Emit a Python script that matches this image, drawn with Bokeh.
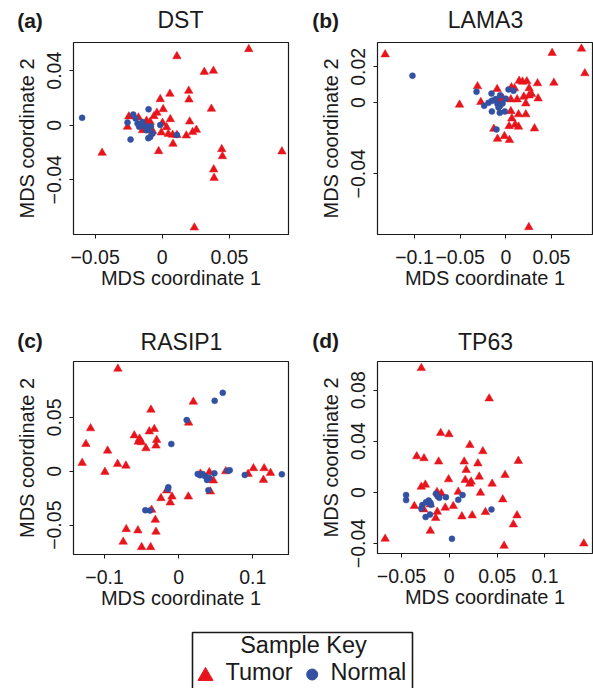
from bokeh.plotting import figure
from bokeh.models import Range1d, FixedTicker
from bokeh.layouts import column, row
from bokeh.embed import file_html
from bokeh.resources import INLINE
from bokeh.core.properties import value

FONT = "Liberation Sans"
RED = "#E8141C"
BLUE = "#3350A2"
INK = "#1a1a1a"
PAGE_W = 593
TEXT_DY = 8.5   # correction so that the text baseline sits where intended

# ---------------- data ----------------
# (a) DST
a_tumor_x = [0.0644, 0.0109, 0.0313, 0.0381, 0.0197, 0.0057, -0.0015, 0.0199, 0.0007, 0.0366,
             -0.0040, -0.0062, 0.0060, 0.0204, -0.0249, -0.0177, -0.0117, 0.0002, 0.0032, -0.0259,
             -0.0147, -0.0072, -0.0007, 0.0045, 0.0077, 0.0109, 0.0179, 0.0226, 0.0254, 0.0080,
             -0.0027, -0.0448, 0.0443, 0.0448, 0.0383, 0.0386, 0.0891, 0.0239, -0.0134, -0.0090]
a_tumor_y = [0.0558, 0.0506, 0.0391, 0.0399, 0.0252, 0.0230, 0.0191, 0.0188, 0.0117, 0.0120,
             0.0091, 0.0066, 0.0044, 0.0027, 0.0064, 0.0056, 0.0032, 0.0017, -0.0015, -0.0012,
             -0.0037, -0.0042, -0.0054, -0.0064, -0.0071, -0.0073, -0.0076, -0.0051, -0.0034, -0.0137,
             -0.0191, -0.0203, -0.0176, -0.0228, -0.0325, -0.0387, -0.0193, -0.0751, 0.0000, 0.0024]
a_normal_x = [-0.0597, -0.0102, -0.0216, -0.0199, -0.0259, -0.0184, -0.0159, -0.0129, -0.0109, -0.0085,
              -0.0097, -0.0072, -0.0090, -0.0104, -0.0236, -0.0015, 0.0109, -0.0147, -0.0117, -0.0172]
a_normal_y = [0.0054, 0.0117, 0.0078, 0.0049, 0.0020, 0.0012, 0.0007, -0.0007, -0.0017, -0.0007,
              -0.0032, -0.0061, -0.0086, -0.0095, -0.0105, 0.0002, -0.0071, 0.0024, -0.0037, -0.0012]
a_xticks = [-0.05, 0.0, 0.05]
a_yticks = [-0.04, 0.0, 0.04]

# (b) LAMA3
b_tumor_x = [-0.1321, 0.0507, 0.0828, 0.0865, -0.0310, -0.0095, 0.0146, 0.0182, 0.0230, 0.0347,
             0.0526, 0.0062, 0.0095, 0.0255, -0.0507, -0.0274, -0.0066, 0.0055, 0.0124, 0.0197,
             0.0255, 0.0281, 0.0354, 0.0219, 0.0055, 0.0139, 0.0219, 0.0066, 0.0036, 0.0102,
             0.0139, 0.0314, -0.0131, -0.0015, -0.0091, 0.0040, 0.0252, -0.0029]
b_tumor_y = [0.0269, 0.0277, 0.0301, 0.0163, 0.0090, 0.0075, 0.0121, 0.0116, 0.0118, 0.0107,
             0.0110, 0.0084, 0.0079, 0.0079, -0.0013, 0.0002, 0.0017, 0.0017, 0.0017, 0.0032,
             0.0039, 0.0047, 0.0022, -0.0006, -0.0049, -0.0067, -0.0067, -0.0090, -0.0133, -0.0125,
             -0.0136, -0.0146, -0.0148, -0.0189, -0.0204, -0.0211, -0.0699, 0.0021]
b_normal_x = [-0.1022, -0.0321, -0.0157, 0.0029, 0.0084, -0.0062, -0.0109, -0.0153, -0.0190, -0.0237,
              -0.0091, -0.0066, -0.0036, 0.0000, -0.0153, -0.0066, -0.0011, -0.0102, -0.0080, -0.0128]
b_normal_y = [0.0150, 0.0060, 0.0050, 0.0073, 0.0065, 0.0041, 0.0019, 0.0009, -0.0002, -0.0019,
              -0.0009, -0.0021, -0.0006, 0.0021, -0.0050, -0.0058, -0.0050, -0.0151, -0.0028, 0.0013]
b_xticks = [-0.1, -0.05, 0.0, 0.05]
b_yticks = [-0.04, 0.0, 0.02]

# (c) RASIP1
c_tumor_x = [-0.0820, 0.0198, -0.0374, 0.0135, -0.1189, -0.0329, -0.0396, -0.1252, -0.0599, -0.0527,
             -0.0545, -0.0500, -0.0297, -0.0306, -0.0441, -0.0959, -0.1302, -0.0824, -0.0712, -0.0995,
             0.0293, 0.0414, 0.0468, 0.0635, 0.0937, 0.1009, 0.1153, 0.1239, 0.1144, 0.0428,
             0.0131, -0.0162, -0.0090, -0.0239, -0.0113, -0.0365, -0.0315, -0.0707, -0.0550, -0.0306,
             -0.0748, -0.0500, -0.0378]
c_tumor_y = [0.0951, 0.0645, 0.0571, 0.0451, 0.0398, 0.0392, 0.0370, 0.0253, 0.0333, 0.0302,
             0.0275, 0.0269, 0.0290, 0.0238, 0.0213, 0.0191, 0.0077, 0.0068, 0.0052, -0.0006,
             -0.0022, -0.0009, -0.0086, 0.0000, -0.0025, 0.0028, 0.0028, -0.0015, -0.0080, -0.0188,
             -0.0235, -0.0179, -0.0235, -0.0250, -0.0290, -0.0358, -0.0451, -0.0537, -0.0549, -0.0562,
             -0.0654, -0.0704, -0.0704]
c_normal_x = [0.0595, 0.0486, 0.0108, -0.0099, 0.0257, 0.0288, 0.0356, 0.0383, 0.0414, 0.0482,
              0.0662, 0.0689, 0.0892, 0.1392, 0.0401, -0.0140, -0.0144, -0.0450, -0.0387, 0.0324]
c_normal_y = [0.0728, 0.0654, 0.0475, 0.0253, -0.0025, -0.0037, -0.0046, -0.0080, -0.0062, -0.0019,
              0.0006, 0.0009, -0.0034, -0.0028, -0.0176, -0.0148, -0.0167, -0.0361, -0.0364, -0.0025]
c_xticks = [-0.1, 0.0, 0.1]
c_yticks = [-0.05, 0.0, 0.05]

# (d) TP63
d_tumor_x = [-0.0292, 0.0417, -0.0090, -0.0003, 0.0215, 0.0351, -0.0340, -0.0264, -0.0111, 0.0156,
             0.0299, 0.0722, 0.0177, 0.0583, 0.0313, -0.0007, 0.0167, 0.0229, 0.0215, 0.0448,
             -0.0250, -0.0292, 0.0094, 0.0326, -0.0083, -0.0128, 0.0559, -0.0365, 0.0042, -0.0042,
             -0.0267, -0.0125, 0.0378, 0.0132, 0.0240, -0.0142, 0.0708, 0.0670, -0.0198, -0.0670,
             0.0573, 0.1406, -0.0198]
d_tumor_y = [0.0973, 0.0735, 0.0465, 0.0455, 0.0371, 0.0322, 0.0282, 0.0267, 0.0241, 0.0241,
             0.0227, 0.0246, 0.0175, 0.0136, 0.0123, 0.0102, 0.0097, 0.0084, 0.0068, 0.0068,
             0.0060, 0.0044, 0.0005, -0.0003, -0.0008, 0.0003, -0.0055, -0.0107, -0.0107, -0.0120,
             -0.0133, -0.0152, -0.0154, -0.0188, -0.0180, -0.0201, -0.0180, -0.0251, -0.0301, -0.0363,
             -0.0418, -0.0400, -0.0094]
d_normal_x = [-0.0451, -0.0451, -0.0281, -0.0292, -0.0243, -0.0215, -0.0198, -0.0191, -0.0139, -0.0104,
              -0.0035, 0.0094, 0.0139, 0.0441, -0.0201, -0.0247, 0.0028, -0.0122]
d_normal_y = [-0.0021, -0.0060, -0.0099, -0.0125, -0.0076, -0.0063, -0.0081, -0.0097, -0.0010, -0.0042,
              -0.0037, -0.0058, -0.0021, -0.0133, -0.0173, -0.0193, -0.0363, -0.0029]
d_xticks = [-0.05, 0.0, 0.05, 0.1]
d_yticks = [-0.04, 0.0, 0.04, 0.08]

panel_letters = ["(a)", "(b)", "(c)", "(d)"]
panel_titles = ["DST", "LAMA3", "RASIP1", "TP63"]
legend_title = "Sample Key"
legend_labels = ["Tumor", "Normal"]


def fmt(t):
    s = "%g" % t
    if s == "-0":
        s = "0"
    return s.replace("-", "\u2212")


def make_panel(tx, ty, nx, ny, xr, yr, xticks, yticks, fw, fh, bl, br, bt, bb):
    p = figure(frame_width=fw, frame_height=fh,
               x_range=Range1d(*xr), y_range=Range1d(*yr),
               output_backend="svg", toolbar_location=None,
               min_border_left=bl, min_border_right=br,
               min_border_top=bt, min_border_bottom=bb)
    p.grid.visible = False
    p.outline_line_color = INK
    p.outline_line_width = 1.2
    p.background_fill_color = "white"
    p.border_fill_color = "white"
    for ax, ticks in ((p.xaxis[0], xticks), (p.yaxis[0], yticks)):
        ax.ticker = FixedTicker(ticks=ticks)
        ax.major_label_overrides = {t: fmt(t) for t in ticks}
        ax.axis_line_color = None
        ax.major_tick_in = 0
        ax.major_tick_out = 4
        ax.major_tick_line_color = INK
        ax.minor_tick_line_color = None
        ax.major_label_text_font = FONT
        ax.major_label_text_font_size = "19.5px"
        ax.major_label_text_color = INK
        ax.axis_label_text_font = FONT
        ax.axis_label_text_font_size = "20px"
        ax.axis_label_text_font_style = "normal"
        ax.axis_label_text_color = INK
    p.xaxis.axis_label = "MDS coordinate 1"
    p.yaxis.axis_label = "MDS coordinate 2"
    p.xaxis.major_label_standoff = 11
    p.xaxis.axis_label_standoff = 0
    p.yaxis.major_label_standoff = 8
    p.yaxis.axis_label_standoff = 7
    p.yaxis.major_label_orientation = "vertical"

    p.scatter(tx, ty, marker="triangle", size=8.5, fill_color=RED, line_color=RED, line_width=0.5)
    p.scatter(nx, ny, marker="circle", size=6, fill_color=BLUE, line_color=BLUE, line_width=0.5)
    return p


def strip(height):
    h = figure(width=PAGE_W, height=height, x_range=Range1d(0, PAGE_W), y_range=Range1d(0, height),
               output_backend="svg", toolbar_location=None, min_border=0,
               x_axis_type=None, y_axis_type=None)
    h.outline_line_color = None
    h.background_fill_color = "white"
    h.border_fill_color = "white"
    return h


def make_header(height, letters, letter_x, letter_y, titles, title_x, title_y):
    h = strip(height)
    h.text(x=letter_x, y=[v + TEXT_DY for v in letter_y], text=letters,
           text_align="left", text_baseline="alphabetic",
           text_font=value(FONT), text_font_size="21px", text_font_style="bold", text_color=INK)
    h.text(x=title_x, y=[v + TEXT_DY for v in title_y], text=titles,
           text_align="center", text_baseline="alphabetic",
           text_font=value(FONT), text_font_size="23px", text_color=INK)
    return h


head1 = make_header(36, panel_letters[:2], [16.7, 311.7], [8, 8],
                    panel_titles[:2], [180, 485], [8, 8])
pa = make_panel(a_tumor_x, a_tumor_y, a_normal_x, a_normal_y,
                (-0.0661, 0.0940), (-0.0802, 0.0607), a_xticks, a_yticks,
                215, 192, 73, 24, 6, 66)
pb = make_panel(b_tumor_x, b_tumor_y, b_normal_x, b_normal_y,
                (-0.1405, 0.0949), (-0.0740, 0.0336), b_xticks, b_yticks,
                215, 192, 65, 1, 6, 66)
head2 = make_header(54, panel_letters[2:], [16.7, 311.7], [6, 6],
                    panel_titles[2:], [181, 485], [4.5, 4.5])
pc = make_panel(c_tumor_x, c_tumor_y, c_normal_x, c_normal_y,
                (-0.1419, 0.1482), (-0.0772, 0.1019), c_xticks, c_yticks,
                215, 193, 73, 24, 7, 66)
pd = make_panel(d_tumor_x, d_tumor_y, d_normal_x, d_normal_y,
                (-0.0750, 0.1497), (-0.0478, 0.1025), d_xticks, d_yticks,
                215, 192, 65, 1, 2, 72)

# ---------------- key ----------------
KEY_H = 68
lg = strip(KEY_H)
lg.line(x=[192, 192, 412, 412], y=[0, 56, 56, 0], line_color=INK, line_width=1.6)
lg.text(x=[303], y=[35 + TEXT_DY], text=[legend_title], text_align="center", text_baseline="alphabetic",
        text_font=value(FONT), text_font_size="23.5px", text_color=INK)
lg.scatter(x=[205], y=[12.4], marker="triangle", size=15, fill_color=RED, line_color=RED)
lg.scatter(x=[311.7], y=[14], marker="circle", size=11, fill_color=BLUE, line_color=BLUE)
lg.text(x=[225, 330], y=[8 + TEXT_DY, 8 + TEXT_DY], text=legend_labels, text_align="left",
        text_baseline="alphabetic",
        text_font=value(FONT), text_font_size="23.5px", text_color=INK)

layout = column(head1, row(pa, pb), head2, row(pc, pd), lg)
open("out.html", "w").write(file_html(layout, INLINE))
